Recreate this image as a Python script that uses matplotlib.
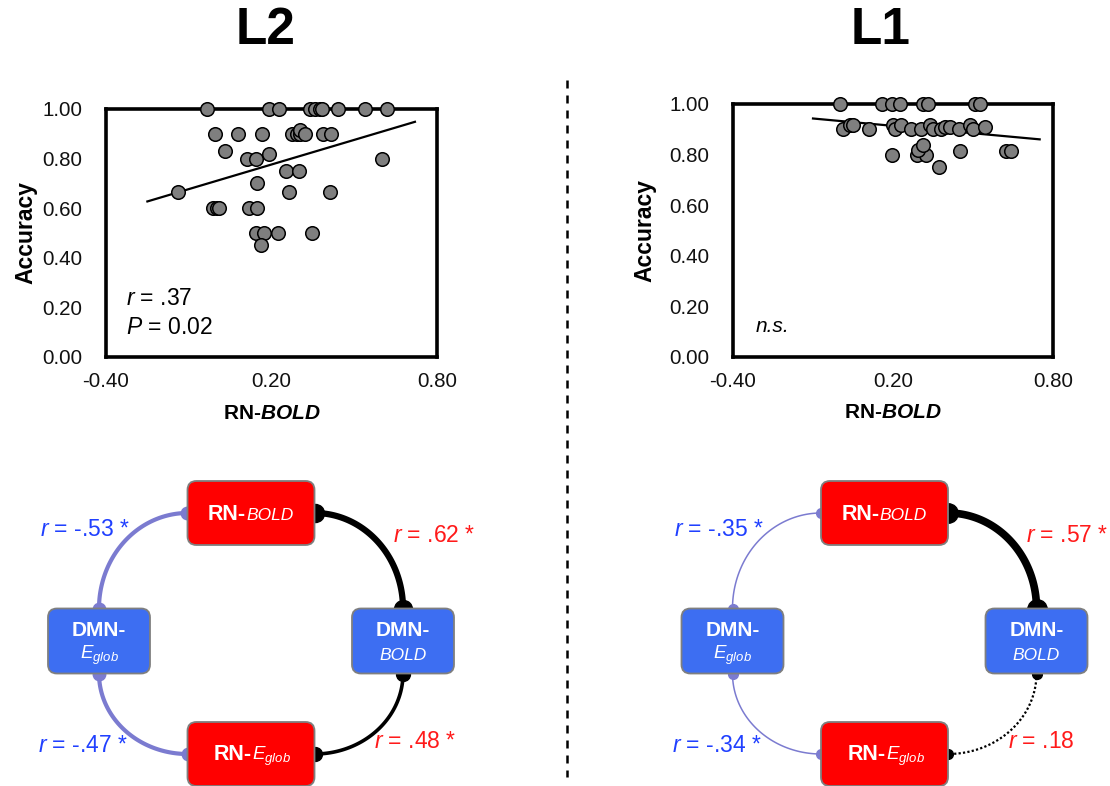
import matplotlib
matplotlib.use('Agg')
import matplotlib.pyplot as plt
import numpy as np
from matplotlib.patches import FancyBboxPatch

plt.rcParams['font.family'] = ['Liberation Sans', 'DejaVu Sans']
plt.rcParams['axes.unicode_minus'] = False
plt.rcParams['mathtext.fontset'] = 'custom'
plt.rcParams['mathtext.rm'] = 'Liberation Sans'
plt.rcParams['mathtext.it'] = 'Liberation Sans:italic'
plt.rcParams['mathtext.bf'] = 'Liberation Sans:bold'
plt.rcParams['mathtext.bfit'] = 'Liberation Sans:bold:italic'

# ---- scatter data ----
l2_x = [-0.033, 0.192, 0.228, 0.340, 0.358, 0.376, 0.382, 0.442, 0.539, 0.618,
        -0.004, 0.077, 0.167, 0.275, 0.291, 0.303, 0.305, 0.320, 0.385, 0.414,
        0.032, 0.110, 0.142, 0.190, 0.600,
        0.252, 0.299, 0.149,
        -0.140, 0.265, 0.413,
        -0.013, 0.002, 0.010, 0.120, 0.149,
        0.143, 0.172, 0.225, 0.348, 0.161]
l2_y = [1.00, 1.00, 1.00, 1.00, 1.00, 1.00, 1.00, 1.00, 1.00, 1.00,
        0.90, 0.90, 0.90, 0.90, 0.90, 0.90, 0.915, 0.90, 0.90, 0.90,
        0.832, 0.80, 0.80, 0.82, 0.80,
        0.75, 0.75, 0.70,
        0.667, 0.667, 0.667,
        0.60, 0.60, 0.60, 0.60, 0.60,
        0.50, 0.50, 0.50, 0.50, 0.45]

l1_x = [0.000, 0.159, 0.196, 0.228, 0.3125, 0.3325, 0.506, 0.5275,
        0.0125, 0.0375, 0.05, 0.11, 0.200, 0.206, 0.231, 0.269, 0.306, 0.3375,
        0.350, 0.381, 0.394, 0.4125, 0.4475, 0.4875, 0.500, 0.544,
        0.196, 0.290, 0.3225, 0.294, 0.3125, 0.4525, 0.625, 0.644, 0.3725]
l1_y = [1.00, 1.00, 1.00, 1.00, 1.00, 1.00, 1.00, 1.00,
        0.90, 0.917, 0.917, 0.90, 0.917, 0.90, 0.917, 0.90, 0.90, 0.917,
        0.90, 0.90, 0.91, 0.91, 0.90, 0.917, 0.90, 0.91,
        0.80, 0.80, 0.80, 0.818, 0.838, 0.815, 0.815, 0.815, 0.75]

# fitted lines: slope, intercept, x start, x end
l2_fit = (0.331, 0.710, -0.25, 0.72)
l1_fit = (-0.097, 0.933, -0.10, 0.75)

l2_stats = ['$\\mathit{r}$ = .37', '$\\mathit{P}$ = 0.02']
l1_stats = ['n.s.']

# ---- network diagram data ----
# edges: RN-BOLD/DMN-BOLD, DMN-BOLD/RN-Eglob, RN-Eglob/DMN-Eglob, DMN-Eglob/RN-BOLD
l2_r = [0.62, 0.48, -0.47, -0.53]
l2_sig = [True, True, True, True]
l1_r = [0.57, 0.18, -0.34, -0.35]
l1_sig = [True, False, True, True]

fig = plt.figure(figsize=(11.1, 7.86), dpi=100)

# overlay in pixel coordinates for the diagrams, titles and divider
ax_d = fig.add_axes([0, 0, 1, 1], zorder=0)
ax_d.set_xlim(0, 1110)
ax_d.set_ylim(786, 0)
ax_d.axis('off')

ax_d.text(265.5, 30, 'L2', fontsize=37, fontweight='bold', ha='center', va='center')
ax_d.text(880.5, 30, 'L1', fontsize=37, fontweight='bold', ha='center', va='center')
ax_d.plot([567, 567], [80, 777], color='black', lw=1.8, dashes=(3.2, 2.8))


def scatter_panel(rect, xs, ys, fit, stats, ylab_x, xlab_y):
    ax = fig.add_axes(rect, zorder=2)
    ax.scatter(xs, ys, s=95, facecolor='#7f7f7f', edgecolor='black',
               linewidth=1.1, zorder=4, clip_on=False)
    m, b, x0, x1 = fit
    ax.plot([x0, x1], [m * x0 + b, m * x1 + b], color='black', lw=1.6, zorder=3)
    ax.set_xlim(-0.4, 0.8)
    ax.set_ylim(0, 1)
    ax.set_xticks([-0.4, 0.2, 0.8])
    ax.set_yticks(np.arange(0, 1.01, 0.2))
    ax.set_xticklabels(['%.2f' % v for v in [-0.4, 0.2, 0.8]])
    ax.set_yticklabels(['%.2f' % v for v in np.arange(0, 1.01, 0.2)])
    ax.tick_params(length=0, labelsize=14.8, colors='#111111')
    ax.tick_params(axis='x', pad=11)
    ax.tick_params(axis='y', pad=17)
    for sp in ax.spines.values():
        sp.set_linewidth(2.6)
        sp.set_zorder(2)
    ax.set_ylabel('Accuracy', fontsize=16.5, fontweight='bold')
    ax.yaxis.set_label_coords(ylab_x, 0.5)
    ax.set_xlabel('RN-$\\mathbfit{BOLD}$', fontsize=15, fontweight='bold')
    ax.xaxis.set_label_coords(0.5, xlab_y)
    if len(stats) > 1:
        for i, s in enumerate(stats):
            ax.text(0.06, 0.235 - i * 0.117, s, transform=ax.transAxes,
                    fontsize=16.5, va='center')
    else:
        ax.text(0.07, 0.12, stats[0], transform=ax.transAxes, fontsize=15,
                fontstyle='italic', va='center')
    return ax


scatter_panel([106 / 1110, 1 - 357 / 786, 331 / 1110, 248 / 786],
              l2_x, l2_y, l2_fit, l2_stats, -0.208, -0.19)
scatter_panel([733 / 1110, 1 - 357 / 786, 320 / 1110, 253 / 786],
              l1_x, l1_y, l1_fit, l1_stats, -0.24, -0.183)


def fmt_r(r, sig):
    s = ('%.2f' % r).replace('0.', '.')
    return '$\\mathit{r}$ = ' + s + (' *' if sig else '')


def diagram(cx, rs, sigs, widths, styles, dots):
    top_y, bot_y, mid_y = 513, 754, 641
    rn_w, rn_h = 127, 64
    dmn_w, dmn_h = 102, 65
    side = 152
    red, blue = '#ff0000', '#3d6ef2'
    # boxes
    for (x, y, w, h, c) in [(cx, top_y, rn_w, rn_h, red), (cx, bot_y, rn_w, rn_h, red),
                            (cx - side, mid_y, dmn_w, dmn_h, blue),
                            (cx + side, mid_y, dmn_w, dmn_h, blue)]:
        ax_d.add_patch(FancyBboxPatch((x - w / 2, y - h / 2), w, h,
                                      boxstyle='round,pad=0,rounding_size=9',
                                      facecolor=c, edgecolor='#7f7f7f', lw=1.3, zorder=5))
    # box labels: bold "RN-" followed by italic measure name
    ax_d.text(cx - 5, top_y + 7, 'RN-', color='white', fontsize=15.5,
              fontweight='bold', ha='right', va='baseline', zorder=6)
    ax_d.text(cx - 5, top_y + 7, 'BOLD', color='white', fontsize=12.5,
              fontstyle='italic', ha='left', va='baseline', zorder=6)
    ax_d.text(cx + 1, bot_y + 6, 'RN-', color='white', fontsize=15.5,
              fontweight='bold', ha='right', va='baseline', zorder=6)
    ax_d.text(cx + 1, bot_y + 6, '$E_{glob}$', color='white', fontsize=13.5,
              ha='left', va='baseline', zorder=6)
    for sx, sub, fs in [(-side, '$E_{glob}$', 13.5), (side, 'BOLD', 12.5)]:
        ax_d.text(cx + sx, mid_y - 10, 'DMN-', color='white', fontsize=15,
                  fontweight='bold', ha='center', va='center', zorder=6)
        ax_d.text(cx + sx, mid_y + 14, sub, color='white', fontsize=fs,
                  fontstyle='italic', ha='center', va='center', zorder=6)
    # arcs: (ellipse centre, vertical radius, start angle, end angle)
    hx = rn_w / 2
    a = side - hx
    b1 = (mid_y - dmn_h / 2) - top_y
    b2 = bot_y - (mid_y + dmn_h / 2)
    arcs = [((cx + hx, mid_y - dmn_h / 2), b1, -np.pi / 2, 0),
            ((cx + hx, mid_y + dmn_h / 2), b2, 0, np.pi / 2),
            ((cx - hx, mid_y + dmn_h / 2), b2, np.pi / 2, np.pi),
            ((cx - hx, mid_y - dmn_h / 2), b1, np.pi, 1.5 * np.pi)]
    pos = [(cx + 142, 536), (cx + 123, 742), (cx - 213, 746), (cx - 211, 530)]
    for k, ((ex, ey), bb, t0, t1) in enumerate(arcs):
        col = 'black' if rs[k] > 0 else '#7b7bd0'
        t = np.linspace(t0, t1, 80)
        xs = ex + a * np.cos(t)
        ys = ey + bb * np.sin(t)
        ax_d.plot(xs, ys, color=col, lw=widths[k], ls=styles[k],
                  solid_capstyle='round', zorder=3)
        ax_d.plot([xs[0], xs[-1]], [ys[0], ys[-1]], 'o', color=col,
                  ms=dots[k], zorder=4)
        tcol = '#ff1a1a' if rs[k] > 0 else '#2040ff'
        ax_d.text(pos[k][0], pos[k][1], fmt_r(rs[k], sigs[k]), color=tcol,
                  fontsize=16.5, ha='left', va='center', zorder=6)


diagram(251, l2_r, l2_sig, [4.5, 2.6, 3.0, 3.0], ['-', '-', '-', '-'], [13, 10, 9, 9])
diagram(884.5, l1_r, l1_sig, [5.5, 1.6, 1.1, 1.1], ['-', (0, (1, 1)), '-', '-'],
        [14, 7, 7, 7])

fig.savefig('out.png', dpi=100)
